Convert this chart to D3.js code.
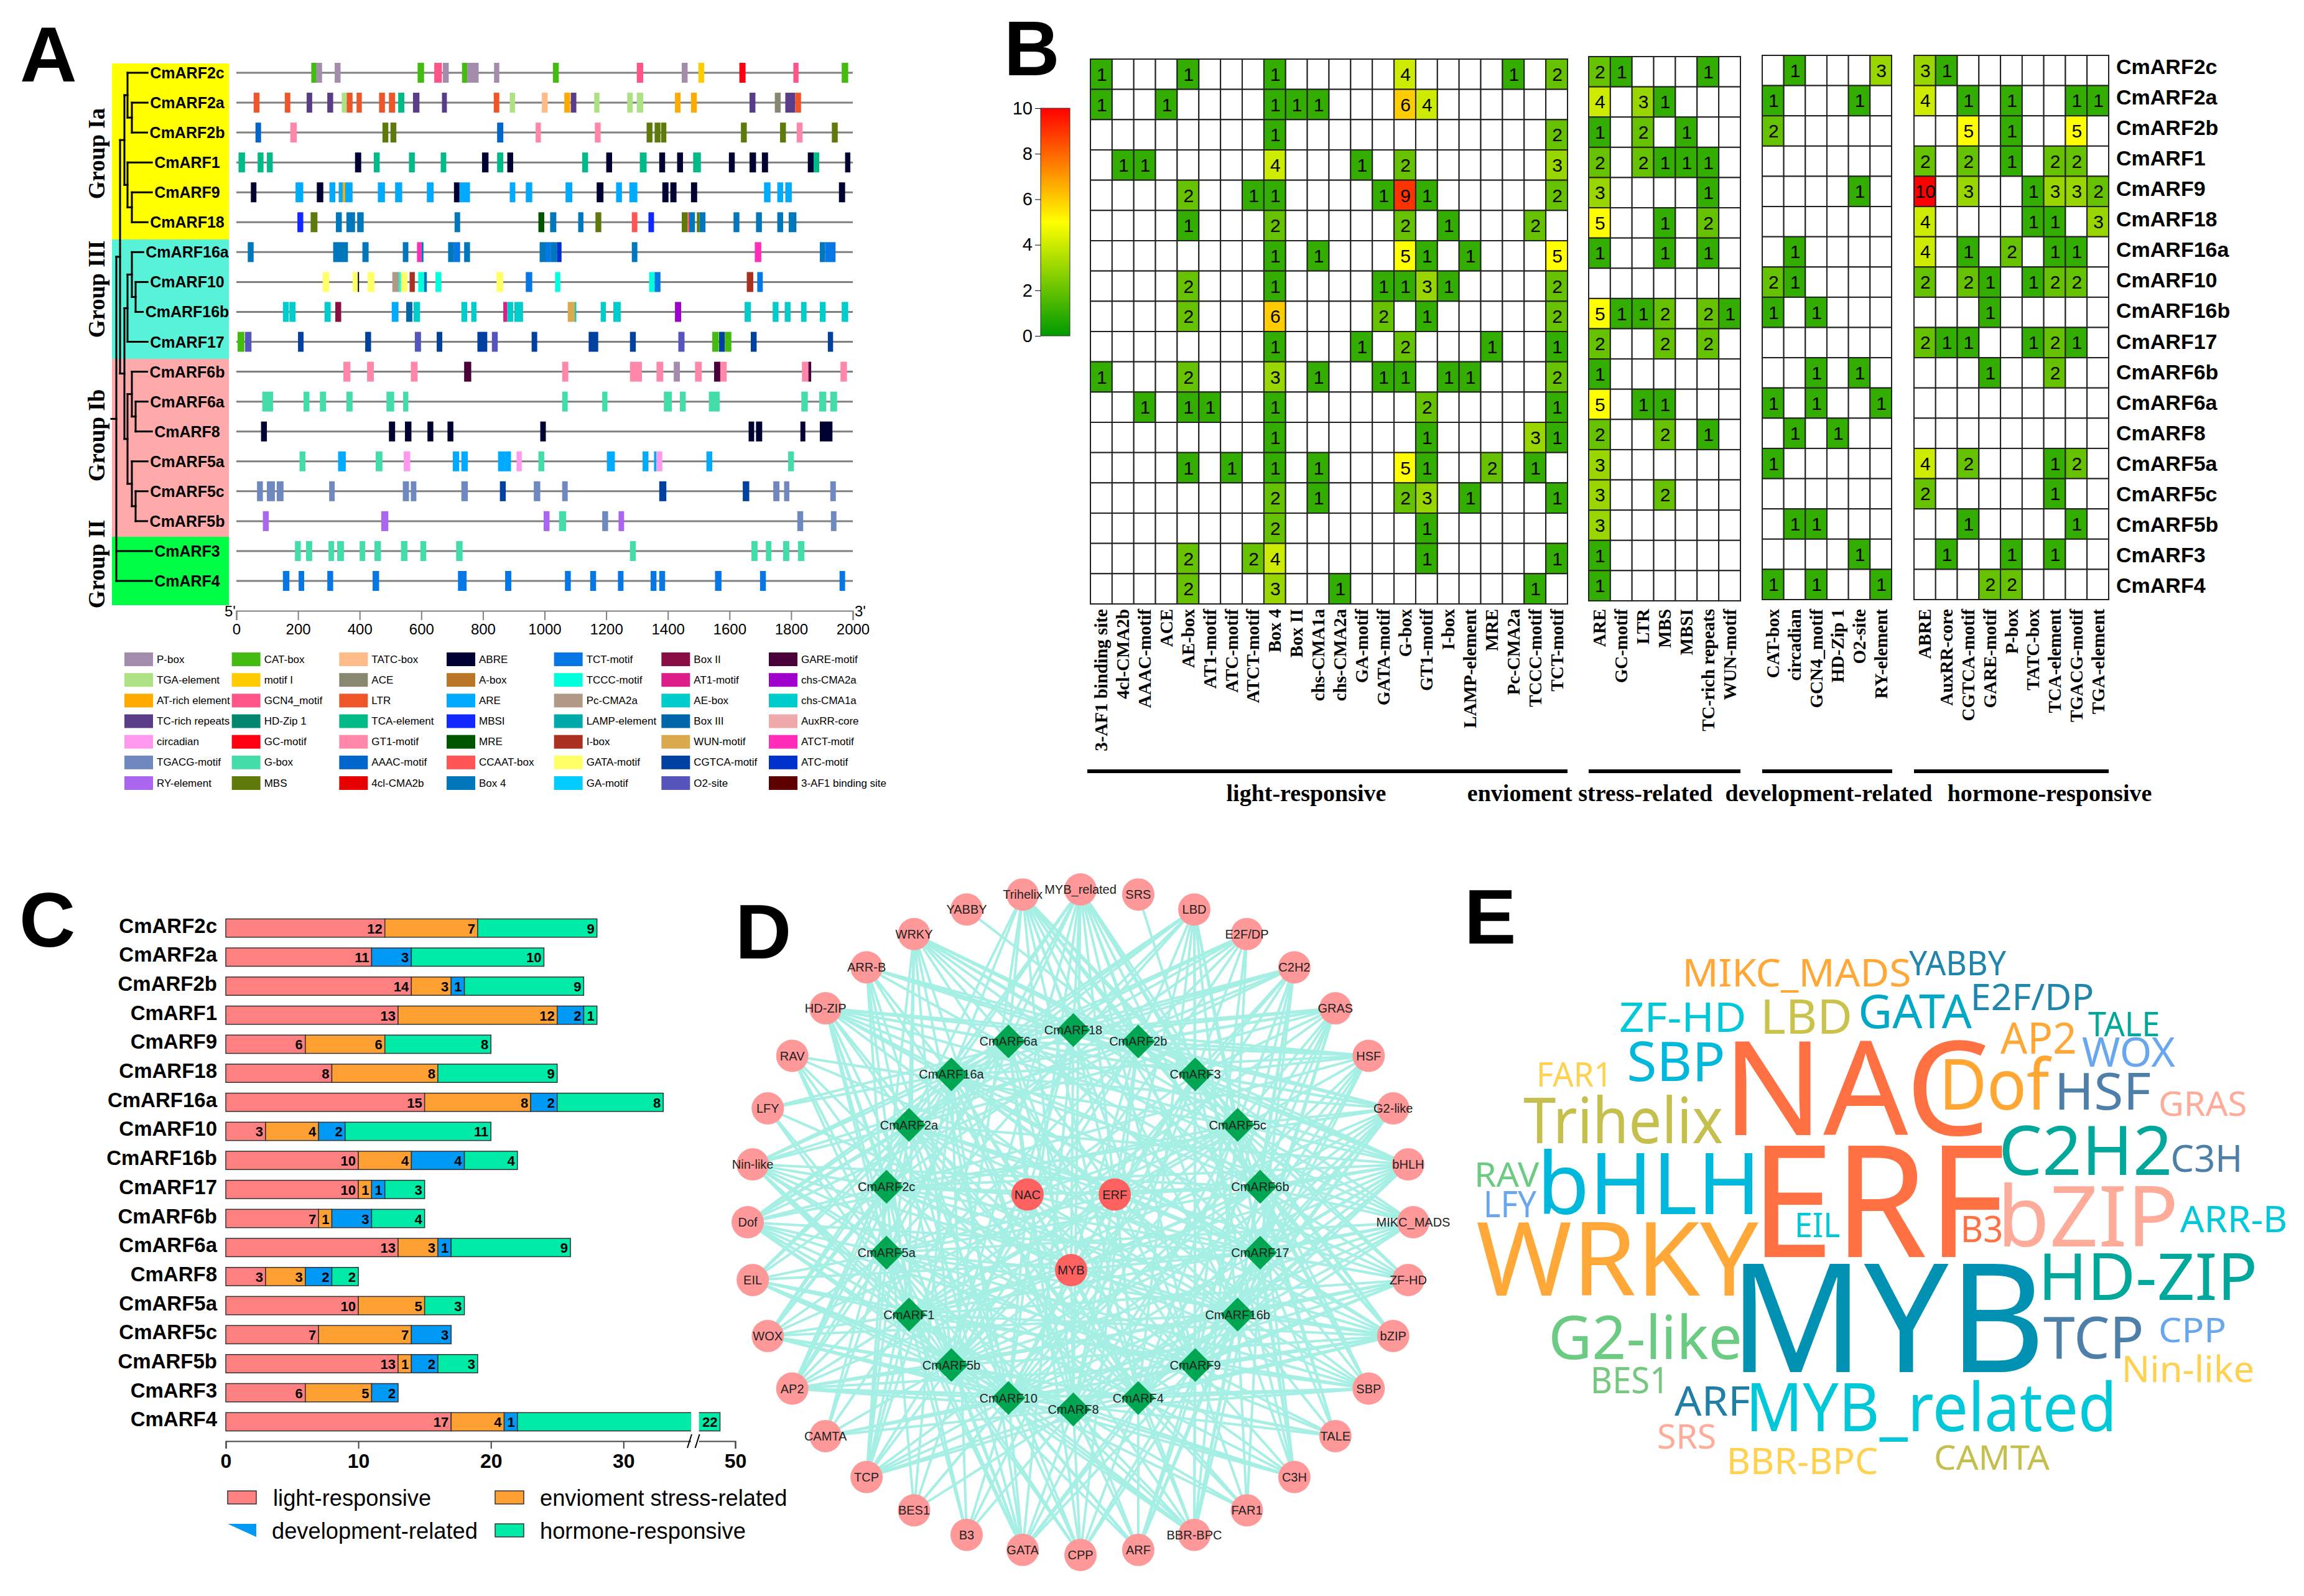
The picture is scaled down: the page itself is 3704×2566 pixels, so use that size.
<!DOCTYPE html>
<html>
<head>
<meta charset="utf-8">
<style>
  body { margin: 0; background: #fff; }
  text { font-family: "Liberation Sans", Arial, sans-serif; }
  .serif { font-family: "Liberation Serif", "Times New Roman", serif; font-weight: bold; }
</style>
<script src="https://cdn.jsdelivr.net/npm/d3@7"></script>
</head>
<body>
<svg id="chart" width="3704" height="2566"></svg>
<script>
// ---- data ----
const genes = ["CmARF2c","CmARF2a","CmARF2b","CmARF1","CmARF9","CmARF18","CmARF16a","CmARF10","CmARF16b","CmARF17","CmARF6b","CmARF6a","CmARF8","CmARF5a","CmARF5c","CmARF5b","CmARF3","CmARF4"];

// panel A legend, column by column
const motifNames = ["P-box","TGA-element","AT-rich element","TC-rich repeats","circadian","TGACG-motif","RY-element",
  "CAT-box","motif I","GCN4_motif","HD-Zip 1","GC-motif","G-box","MBS",
  "TATC-box","ACE","LTR","TCA-element","GT1-motif","AAAC-motif","4cl-CMA2b",
  "ABRE","A-box","ARE","MBSI","MRE","CCAAT-box","Box 4",
  "TCT-motif","TCCC-motif","Pc-CMA2a","LAMP-element","I-box","GATA-motif","GA-motif",
  "Box II","AT1-motif","AE-box","Box III","WUN-motif","CGTCA-motif","O2-site",
  "GARE-motif","chs-CMA2a","chs-CMA1a","AuxRR-core","ATCT-motif","ATC-motif","3-AF1 binding site"];
const motifColors = ["#a48cad","#aee183","#ffaa00","#5a3d88","#ff99ee","#7088c0","#aa66ee",
  "#44bb11","#ffcc00","#ff5588","#00876e","#ff0011","#44ddaa","#5e7a0a",
  "#ffbb88","#888870","#ee5528","#00bb88","#ff88aa","#0066cc","#e60000",
  "#000033","#bb7728","#00aaff","#1128ff","#005500","#ff5555","#0077bb",
  "#0777e5","#00ffdd","#b09a85","#00aaaa","#aa3020","#ffff66","#00ccff",
  "#880e44","#dd1e88","#00cccc","#0066aa","#d9aa4e","#00409f","#5555bb",
  "#4a0038","#a000cc","#00cccc","#eeaaaa","#ff2db8","#0033cc","#5e0000"];

// motif, start bp, end bp
const sitesARF2c = [["CAT-box",243,260],["P-box",260,278],["P-box",319,338],["CAT-box",588,609],["GCN4_motif",642,667],["P-box",670,689],["CAT-box",732,749],["P-box",749,786],["P-box",836,853],["CAT-box",1027,1046],["GCN4_motif",1299,1320],["P-box",1445,1464],["motif I",1499,1518],["GC-motif",1632,1652],["GCN4_motif",1807,1824],["CAT-box",1964,1985]];
const sitesARF2a = [["LTR",56,75],["LTR",157,175],["TC-rich repeats",228,246],["TC-rich repeats",295,314],["TGA-element",342,358],["LTR",358,377],["LTR",390,407],["LTR",463,482],["LTR",495,515],["TCA-element",525,545],["TC-rich repeats",573,594],["TC-rich repeats",667,683],["LTR",835,853],["TGA-element",887,904],["TATC-box",991,1010],["AT-rich element",1064,1083],["TC-rich repeats",1085,1103],["TGA-element",1161,1178],["TGA-element",1268,1286],["TGA-element",1299,1320],["AT-rich element",1423,1441],["AT-rich element",1475,1494],["TC-rich repeats",1665,1684],["ACE",1747,1766],["TC-rich repeats",1781,1813],["LTR",1813,1832]];
const sitesARF2b = [["AAAC-motif",62,80],["GT1-motif",175,196],["MBS",474,493],["MBS",500,519],["AAAC-motif",846,866],["GT1-motif",971,988],["GT1-motif",1163,1182],["MBS",1331,1350],["MBS",1357,1376],["MBS",1378,1395],["MBS",1637,1656],["MBS",1764,1783],["GT1-motif",1818,1837],["MBS",1932,1951]];
const sitesARF1 = [["TCA-element",7,28],["TCA-element",69,88],["TCA-element",99,118],["ABRE",385,405],["TCA-element",446,465],["TCA-element",560,579],["TCA-element",663,681],["ABRE",797,818],["TCA-element",846,866],["ABRE",879,898],["TCA-element",1122,1141],["ABRE",1200,1219],["TCA-element",1309,1331],["ABRE",1372,1391],["ABRE",1430,1449],["TCA-element",1482,1507],["ABRE",1598,1617],["ABRE",1665,1686],["ABRE",1705,1725],["ABRE",1854,1873],["TCA-element",1873,1891],["ABRE",1975,1992]];
const sitesARF9 = [["ABRE",47,65],["ARE",192,217],["ABRE",261,282],["ARE",302,321],["ARE",332,345],["AT-rich element",345,353],["ARE",353,377],["ARE",459,482],["ARE",515,538],["ARE",618,640],["ABRE",706,724],["ARE",724,758],["ARE",887,905],["ARE",939,960],["ARE",1068,1090],["ABRE",1169,1191],["ARE",1232,1251],["ARE",1275,1301],["ABRE",1382,1402],["ABRE",1408,1428],["ABRE",1475,1495],["ARE",1712,1733],["ARE",1755,1774],["ARE",1781,1802],["ABRE",1955,1975]];
const sitesARF18 = [["MBSI",198,217],["MBS",241,263],["Box 4",323,342],["Box 4",357,385],["Box 4",392,413],["Box 4",708,726],["MRE",980,999],["Box 4",1018,1038],["Box 4",1109,1126],["MBS",1165,1184],["CCAAT-box",1283,1301],["MBSI",1337,1355],["MBS",1445,1464],["CCAAT-box",1464,1469],["Box 4",1469,1488],["MBS",1494,1503],["Box 4",1503,1522],["Box 4",1613,1632],["Box 4",1686,1705],["Box 4",1755,1774],["Box 4",1792,1817]];
const sitesARF16a = [["Box 4",37,56],["Box 4",314,362],["Box 4",409,429],["Box 4",540,558],["ATCT-motif",586,601],["Box 4",601,607],["Box 4",687,706],["TCT-motif",706,726],["Box 4",739,758],["Box 4",984,1003],["TCT-motif",1003,1021],["Box 4",1021,1040],["ATC-motif",1040,1055],["Box 4",1283,1301],["ATCT-motif",1682,1703],["Box 4",1893,1910],["TCT-motif",1910,1944]];
const sitesARF10 = [["GATA-motif",280,301],["GATA-motif",377,394],["ABRE",394,398],["GATA-motif",426,448],["Pc-CMA2a",506,527],["TCCC-motif",527,534],["GATA-motif",534,555],["I-box",562,579],["TCCC-motif",590,609],["Box 4",609,618],["TCCC-motif",646,665],["GATA-motif",844,866],["TCT-motif",939,960],["TCCC-motif",1034,1051],["TCCC-motif",1339,1357],["TCT-motif",1357,1376],["I-box",1656,1677],["TCT-motif",1690,1708]];
const sitesARF16b = [["AE-box",151,170],["AE-box",172,192],["AE-box",286,306],["Box II",321,340],["ARE",504,526],["Box III",551,571],["AE-box",575,596],["AE-box",730,749],["AE-box",762,779],["AT1-motif",866,879],["AE-box",879,898],["AE-box",902,930],["WUN-motif",1075,1098],["AE-box",1098,1103],["AE-box",1182,1199],["AE-box",1223,1247],["chs-CMA2a",1423,1443],["AE-box",1649,1669],["AE-box",1740,1759],["AE-box",1779,1798],["AE-box",1832,1850],["AE-box",1893,1912],["AE-box",1964,1985]];
const sitesARF17 = [["CAT-box",4,26],["O2-site",28,49],["CGTCA-motif",200,218],["CGTCA-motif",418,437],["O2-site",579,599],["CGTCA-motif",650,668],["CGTCA-motif",782,814],["O2-site",829,848],["CGTCA-motif",958,976],["CGTCA-motif",1143,1174],["CGTCA-motif",1277,1296],["O2-site",1434,1454],["CAT-box",1544,1565],["CGTCA-motif",1566,1585],["CAT-box",1585,1606],["CGTCA-motif",1669,1688],["CGTCA-motif",1919,1936]];
const sitesARF6b = [["GT1-motif",347,370],["GT1-motif",424,446],["GT1-motif",566,588],["GARE-motif",739,762],["GT1-motif",1057,1077],["GT1-motif",1277,1316],["GT1-motif",1363,1385],["P-box",1419,1439],["GT1-motif",1488,1510],["GARE-motif",1550,1570],["GT1-motif",1570,1591],["GT1-motif",1835,1856],["GARE-motif",1856,1865],["GT1-motif",1960,1981]];
const sitesARF6a = [["G-box",84,119],["G-box",218,237],["G-box",271,291],["G-box",357,377],["G-box",487,512],["G-box",541,558],["G-box",1057,1075],["G-box",1187,1204],["G-box",1387,1413],["G-box",1439,1458],["G-box",1533,1568],["G-box",1833,1854],["G-box",1891,1914],["G-box",1927,1949]];
const sitesARF8 = [["ABRE",80,99],["ABRE",495,515],["ABRE",547,568],["ABRE",620,639],["ABRE",685,704],["ABRE",986,1004],["ABRE",1662,1680],["ABRE",1686,1706],["ABRE",1830,1846],["ABRE",1893,1934]];
const sitesARF5a = [["G-box",205,224],["ARE",330,355],["G-box",452,474],["circadian",543,564],["ARE",702,723],["ARE",730,751],["ARE",849,870],["ARE",870,891],["circadian",909,926],["G-box",980,999],["ARE",1202,1228],["ARE",1318,1337],["ARE",1355,1363],["circadian",1363,1382],["ARE",1525,1544],["G-box",1790,1809]];
const sitesARF5c = [["TGACG-motif",67,86],["TGACG-motif",99,125],["TGACG-motif",131,153],["TGACG-motif",301,319],["TGACG-motif",540,560],["TGACG-motif",566,584],["TGACG-motif",730,751],["CGTCA-motif",855,874],["TGACG-motif",965,986],["TGACG-motif",1057,1075],["CGTCA-motif",1372,1395],["CGTCA-motif",1643,1664],["TGACG-motif",1742,1762],["TGACG-motif",1777,1794],["TGACG-motif",1927,1945]];
const sitesARF5b = [["RY-element",86,105],["RY-element",470,493],["RY-element",997,1016],["G-box",1047,1070],["TGACG-motif",1187,1206],["RY-element",1240,1258],["TGACG-motif",1820,1839],["TGACG-motif",1929,1947]];
const sitesARF3 = [["G-box",190,209],["G-box",226,246],["G-box",299,317],["G-box",327,349],["G-box",400,418],["G-box",448,469],["G-box",534,555],["G-box",597,616],["G-box",713,734],["G-box",1277,1296],["G-box",1671,1691],["G-box",1718,1736],["G-box",1774,1794],["G-box",1822,1843]];
const sitesARF4 = [["TCT-motif",151,172],["TCT-motif",202,220],["TCT-motif",295,314],["TCT-motif",442,463],["TCT-motif",719,747],["TCT-motif",872,892],["TCT-motif",1066,1085],["TCT-motif",1148,1167],["TCT-motif",1238,1256],["TCT-motif",1344,1363],["TCT-motif",1372,1391],["TCT-motif",1553,1574],["TCT-motif",1699,1718],["TCT-motif",1957,1975]];
const allSites = [sitesARF2c,sitesARF2a,sitesARF2b,sitesARF1,sitesARF9,sitesARF18,sitesARF16a,sitesARF10,sitesARF16b,sitesARF17,sitesARF6b,sitesARF6a,sitesARF8,sitesARF5a,sitesARF5c,sitesARF5b,sitesARF3,sitesARF4];

const groupNames = ["Group Ia","Group III","Group Ib","Group II"];
const groupColors = ["#ffff00","#58f2d9","#ffaaaa","#00ff44"];

// cladogram, leaves in gene order
const tree = { children: [
  { children: [
    { children: [
      { children: [{ name: "CmARF2c" }, { children: [{ name: "CmARF2a" }, { name: "CmARF2b" }] }] },
      { children: [{ name: "CmARF1" }, { children: [{ name: "CmARF9" }, { name: "CmARF18" }] }] }
    ] },
    { children: [
      { children: [
        { children: [{ name: "CmARF16a" }, { children: [{ name: "CmARF10" }, { name: "CmARF16b" }] }] },
        { name: "CmARF17" }
      ] },
      { children: [
        { children: [{ name: "CmARF6b" }, { children: [{ name: "CmARF6a" }, { name: "CmARF8" }] }] },
        { children: [{ name: "CmARF5a" }, { children: [{ name: "CmARF5c" }, { name: "CmARF5b" }] }] }
      ] }
    ] }
  ] },
  { name: "CmARF3" },
  { name: "CmARF4" }
] };

// panel B
const lightCols = ["3-AF1 binding site","4cl-CMA2b","AAAC-motif","ACE","AE-box","AT1-motif","ATC-motif","ATCT-motif","Box 4","Box II","chs-CMA1a","chs-CMA2a","GA-motif","GATA-motif","G-box","GT1-motif","I-box","LAMP-element","MRE","Pc-CMA2a","TCCC-motif","TCT-motif"];
const stressCols = ["ARE","GC-motif","LTR","MBS","MBSI","TC-rich repeats","WUN-motif"];
const devCols = ["CAT-box","circadian","GCN4_motif","HD-Zip 1","O2-site","RY-element"];
const hormoneCols = ["ABRE","AuxRR-core","CGTCA-motif","GARE-motif","P-box","TATC-box","TCA-element","TGACG-motif","TGA-element"];
const lightCounts = [
  [1,0,0,0,1,0,0,0,1,0,0,0,0,0,4,0,0,0,0,1,0,2],
  [1,0,0,1,0,0,0,0,1,1,1,0,0,0,6,4,0,0,0,0,0,0],
  [0,0,0,0,0,0,0,0,1,0,0,0,0,0,0,0,0,0,0,0,0,2],
  [0,1,1,0,0,0,0,0,4,0,0,0,1,0,2,0,0,0,0,0,0,3],
  [0,0,0,0,2,0,0,1,1,0,0,0,0,1,9,1,0,0,0,0,0,2],
  [0,0,0,0,1,0,0,0,2,0,0,0,0,0,2,0,1,0,0,0,2,0],
  [0,0,0,0,0,0,0,0,1,0,1,0,0,0,5,1,0,1,0,0,0,5],
  [0,0,0,0,2,0,0,0,1,0,0,0,0,1,1,3,1,0,0,0,0,2],
  [0,0,0,0,2,0,0,0,6,0,0,0,0,2,0,1,0,0,0,0,0,2],
  [0,0,0,0,0,0,0,0,1,0,0,0,1,0,2,0,0,0,1,0,0,1],
  [1,0,0,0,2,0,0,0,3,0,1,0,0,1,1,0,1,1,0,0,0,2],
  [0,0,1,0,1,1,0,0,1,0,0,0,0,0,0,2,0,0,0,0,0,1],
  [0,0,0,0,0,0,0,0,1,0,0,0,0,0,0,1,0,0,0,0,3,1],
  [0,0,0,0,1,0,1,0,1,0,1,0,0,0,5,1,0,0,2,0,1,0],
  [0,0,0,0,0,0,0,0,2,0,1,0,0,0,2,3,0,1,0,0,0,1],
  [0,0,0,0,0,0,0,0,2,0,0,0,0,0,0,1,0,0,0,0,0,0],
  [0,0,0,0,2,0,0,2,4,0,0,0,0,0,0,1,0,0,0,0,0,1],
  [0,0,0,0,2,0,0,0,3,0,0,1,0,0,0,0,0,0,0,0,1,0]
];
const stressCounts = [
  [2,1,0,0,0,1,0],[4,0,3,1,0,0,0],[1,0,2,0,1,0,0],[2,0,2,1,1,1,0],[3,0,0,0,0,1,0],[5,0,0,1,0,2,0],
  [1,0,0,1,0,1,0],[0,0,0,0,0,0,0],[5,1,1,2,0,2,1],[2,0,0,2,0,2,0],[1,0,0,0,0,0,0],[5,0,1,1,0,0,0],
  [2,0,0,2,0,1,0],[3,0,0,0,0,0,0],[3,0,0,2,0,0,0],[3,0,0,0,0,0,0],[1,0,0,0,0,0,0],[1,0,0,0,0,0,0]
];
const devCounts = [
  [0,1,0,0,0,3],[1,0,0,0,1,0],[2,0,0,0,0,0],[0,0,0,0,0,0],[0,0,0,0,1,0],[0,0,0,0,0,0],
  [0,1,0,0,0,0],[2,1,0,0,0,0],[1,0,1,0,0,0],[0,0,0,0,0,0],[0,0,1,0,1,0],[1,0,1,0,0,1],
  [0,1,0,1,0,0],[1,0,0,0,0,0],[0,0,0,0,0,0],[0,1,1,0,0,0],[0,0,0,0,1,0],[1,0,1,0,0,1]
];
const hormoneCounts = [
  [3,1,0,0,0,0,0,0,0],[4,0,1,0,1,0,0,1,1],[0,0,5,0,1,0,0,5,0],[2,0,2,0,1,0,2,2,0],[10,0,3,0,0,1,3,3,2],[4,0,0,0,0,1,1,0,3],
  [4,0,1,0,2,0,1,1,0],[2,0,2,1,0,1,2,2,0],[0,0,0,1,0,0,0,0,0],[2,1,1,0,0,1,2,1,0],[0,0,0,1,0,0,2,0,0],[0,0,0,0,0,0,0,0,0],
  [0,0,0,0,0,0,0,0,0],[4,0,2,0,0,0,1,2,0],[2,0,0,0,0,0,1,0,0],[0,0,1,0,0,0,0,1,0],[0,1,0,0,1,0,1,0,0],[0,0,0,2,2,0,0,0,0]
];

// panel C
const categories = ["light-responsive","envioment stress-related","development-related","hormone-responsive"];
const categoryColors = ["#ff8080","#ffa033","#0099f5","#00eaa8"];
const lightTotals = [12,11,14,13,6,8,15,3,10,10,7,13,3,10,7,13,6,17];
const stressTotals = [7,0,3,12,6,8,8,4,4,1,1,3,3,5,7,1,5,4];
const devTotals = [0,3,1,2,0,0,2,2,4,1,3,1,2,0,3,2,2,1];
const hormoneTotals = [9,10,9,1,8,9,8,11,4,3,4,9,2,3,0,3,0,22];
const xTicksC = [0,10,20,30,50];

// panel D
const tfNames = ["MYB_related","SRS","LBD","E2F/DP","C2H2","GRAS","HSF","G2-like","bHLH","MIKC_MADS","ZF-HD","bZIP","SBP","TALE","C3H","FAR1","BBR-BPC","ARF","CPP","GATA","B3","BES1","TCP","CAMTA","AP2","WOX","EIL","Dof","Nin-like","LFY","RAV","HD-ZIP","ARR-B","WRKY","YABBY","Trihelix"];
const arfRing = ["CmARF18","CmARF2b","CmARF3","CmARF5c","CmARF6b","CmARF17","CmARF16b","CmARF9","CmARF4","CmARF8","CmARF10","CmARF5b","CmARF1","CmARF5a","CmARF2c","CmARF2a","CmARF16a","CmARF6a"];
const hubNames = ["ERF","MYB","NAC"];
// for each TF above, the indexes in arfRing it links to (estimated)
const tfTargets = [
  [0,1,2,3,4,5,6,7,8,9,10,11,13,15,16,17],[2],[0,1,2,3,5,6,7,8,9,13,15,16,17],[0,1,16,17,3,7,9,11,14],
  [0,1,2,3,4,5,6,7,8,10,11,15,16,17],[0,1,2,3,4,5,6,8,9,12,16,17,15],[0,1,2,4,6,7,8,10,12,14,16,17],[0,1,2,3,4,5,6,7,8,9,10,12,14,16,17],
  [0,1,2,3,4,5,6,7,8,9,10,11,12,13,14,15,17],[2,3,4,5,8,9,10,11,12,13,16,17],[2,3,4,5,6,7,9,10,11,12,14,15,16],[1,2,3,4,5,6,7,8,9,10,11,12,13,14,15,16],
  [2,3,4,5,6,7,8,9,10,12,13,14,16],[3,4,5,6,7,8,10,11,13],[2,3,4,5,6,7,8,9,10,11,14],[5,6,7,8,9,11,15],
  [2,3,4,5,6,7,8,9,10,11,12,13,15,17],[4,5,6,7,8,9,10,11,13,16],[1,5,6,8,9,10,11,12,15,17],[0,5,7,8,9,10,11,12,13,14,15,16,3],
  [2,9,10,12,14,16],[3,9,10,14,16,0],[1,6,8,9,10,11,12,13,14,15,16,17,4],[4,7,9,10,12,13,15],
  [4,6,7,8,9,10,11,12,13,14,15,16,17,1],[3,6,8,9,10,11,12,13,14,15,16,17],[5,7,9,10,11,12,13,14,15,17],[0,3,5,7,8,9,10,11,12,13,14,15,16,17,1],
  [1,4,6,7,8,10,11,12,13,14,15,16,17],[11,13,16,0,6],[11,12,14,3,5,8],[0,1,2,3,4,5,6,8,10,11,12,13,14,15,16,17],
  [0,1,2,4,8,10,11,12,13,16],[0,1,2,3,4,5,7,9,10,11,12,14,15,17],[1],[0,1,2,3,4,5,6,7,8,9,11,15,16,17]
];

// panel E
const wordNames = ["ERF","MYB","NAC","WRKY","bHLH","bZIP","Dof","C2H2","MYB_related","HD-ZIP","Trihelix","G2-like","TCP","SBP","HSF","LBD","GATA","AP2","ARF","ZF-HD","WOX","MIKC_MADS","C3H","BES1","Nin-like","ARR-B","LFY","E2F/DP","B3","BBR-BPC","CAMTA","CPP","RAV","YABBY","TALE","FAR1","GRAS","EIL","SRS"];
const wordWeights = [100,97,84,66,55,54,45,44,43,42,41,39,37,35,33,31,30,28,26,26,26,25,24,23,23,23,23,23,23,23,22,22,22,22,22,22,22,22,22];
const wordColors = ["#ff7043","#0091b3","#ff7043","#ffa838","#00b8dc","#ffab99","#ffa732","#00a79b","#00c8d8","#00a79b","#c5bf4e","#6ccb82","#4e7fa8","#00b8dc","#4e7fa8","#c9c24b","#00a8c8","#ffa838","#1f7fa5","#00c8d8","#6aa6ee","#ffa838","#4e7fa8","#76c880","#ffd14f","#00c8d8","#6aa6ee","#1f85ac","#ff7043","#ffd14f","#c5bf4e","#6aa6ee","#6ccb82","#1f85ac","#00a79b","#ffd14f","#ffab99","#00c8d8","#ffab99"];

// ---- drawing ----
const svg = d3.select("#chart");
const sans = "Liberation Sans";

function panelLetter(t, x, y, size) {
  svg.append("text").attr("x", x).attr("y", y).attr("font-size", size).attr("font-weight", "bold").text(t);
}
panelLetter("A", 32, 131, 127);
panelLetter("B", 1614, 121, 124);
panelLetter("C", 31, 1522, 125);
panelLetter("D", 1182, 1541, 125);
panelLetter("E", 2354, 1517, 125);

// ---- A: motif map ----
const a = svg.append("g");
const motifColor = d3.scaleOrdinal().domain(motifNames).range(motifColors);
const xBp = d3.scaleLinear().domain([0, 2000]).range([380, 1371]);
const yRow = d3.scalePoint().domain(genes).range([117, 934]);

const groupEdges = [102, 385, 577, 863, 973];
const groupLabelY = [247, 465, 700, 907];
groupNames.forEach((g, i) => {
  a.append("rect").attr("x", 180).attr("width", 188)
    .attr("y", groupEdges[i]).attr("height", groupEdges[i + 1] - groupEdges[i])
    .attr("fill", groupColors[i]);
  a.append("text").attr("class", "serif")
    .attr("transform", `translate(155,${groupLabelY[i]}) rotate(-90)`)
    .attr("text-anchor", "middle").attr("dominant-baseline", "central")
    .attr("font-size", 37).text(g);
});

genes.forEach((g, i) => {
  const row = a.append("g");
  row.append("line").attr("x1", xBp(0)).attr("x2", xBp(2000))
    .attr("y1", yRow(g)).attr("y2", yRow(g))
    .attr("stroke", "#808080").attr("stroke-width", 3);
  row.selectAll("rect").data(allSites[i]).enter().append("rect")
    .attr("x", d => xBp(d[1]))
    .attr("width", d => xBp(d[2]) - xBp(d[1]))
    .attr("y", yRow(g) - 16).attr("height", 32)
    .attr("fill", d => motifColor(d[0]));
});

const geneLabels = a.selectAll(".gene").data(genes).enter().append("text")
  .attr("class", "gene")
  .attr("x", 301).attr("y", d => yRow(d))
  .attr("text-anchor", "middle").attr("dominant-baseline", "central")
  .attr("font-size", 25).attr("font-weight", "bold").text(d => d);

// cladogram, x follows depth, y the midpoint of the children
const labelLeft = {};
geneLabels.each(function(d) { labelLeft[d] = 301 - this.getComputedTextLength() / 2 - 4; });
const depthX = d3.scaleOrdinal().domain([0, 1, 2, 3, 4, 5]).range([187, 193, 200, 205, 212, 218]);
const root = d3.hierarchy(tree);
root.eachAfter(n => {
  n.yPos = n.children ? d3.mean([n.children[0].yPos, n.children[n.children.length - 1].yPos]) : yRow(n.data.name);
  n.xPos = n.children ? depthX(n.depth) : labelLeft[n.data.name];
});
const treeLine = (x1, y1, x2, y2) => a.append("line")
  .attr("x1", x1).attr("y1", y1).attr("x2", x2).attr("y2", y2)
  .attr("stroke", "#000").attr("stroke-width", 3).attr("stroke-linecap", "square");
root.each(n => {
  if (!n.children) return;
  const ys = n.children.map(c => c.yPos);
  treeLine(n.xPos, d3.min(ys), n.xPos, d3.max(ys));
  n.children.forEach(c => treeLine(n.xPos, c.yPos, c.xPos, c.yPos));
});
treeLine(179, root.yPos, root.xPos, root.yPos);

// scale bar
const axisA = a.append("g").attr("transform", "translate(0,982)")
  .call(d3.axisBottom(xBp).tickValues(d3.range(0, 2001, 200)).tickFormat(d3.format("d")).tickSize(15).tickPadding(6));
axisA.selectAll("path,line").attr("stroke", "#808080").attr("stroke-width", 2);
axisA.selectAll("text").attr("font-size", 24).attr("font-family", sans).attr("fill", "#000");
a.append("text").attr("x", 361).attr("y", 991).attr("font-size", 24).text("5'");
a.append("text").attr("x", 1374).attr("y", 991).attr("font-size", 24).text("3'");

// motif legend
const legendX = d3.scaleLinear().domain([0, 6]).range([200, 1236]);
const legendY = d3.scaleLinear().domain([0, 6]).range([1060, 1259]);
const legendItem = a.selectAll(".motif").data(motifNames).enter().append("g")
  .attr("transform", (d, i) => `translate(${legendX(Math.floor(i / 7))},${legendY(i % 7)})`);
legendItem.append("rect").attr("y", -11).attr("width", 46).attr("height", 22)
  .attr("fill", d => motifColor(d));
legendItem.append("text").attr("x", 52).attr("dominant-baseline", "central")
  .attr("font-size", 17).text(d => d);

// ---- B: heatmaps ----
const b = svg.append("g");
const heat = d3.scaleLinear().domain([0, 5, 10]).range(["#009900", "#ffff00", "#ff0000"]);

function heatGrid(cols, counts, left, right, top, bottom) {
  const x = d3.scaleBand().domain(cols).range([left, right]);
  const y = d3.scaleBand().domain(genes).range([top, bottom]);
  const cells = [];
  counts.forEach((row, r) => row.forEach((v, c) => cells.push({ gene: genes[r], col: cols[c], v: v })));
  b.append("g").selectAll("rect").data(cells).enter().append("rect")
    .attr("x", d => x(d.col)).attr("y", d => y(d.gene))
    .attr("width", x.bandwidth()).attr("height", y.bandwidth())
    .attr("fill", d => d.v ? heat(d.v) : "#fff")
    .attr("stroke", "#222").attr("stroke-width", 2);
  b.append("g").selectAll("text").data(cells.filter(d => d.v)).enter().append("text")
    .attr("x", d => x(d.col) + x.bandwidth() / 2 + 1)
    .attr("y", d => y(d.gene) + y.bandwidth() / 2)
    .attr("text-anchor", "middle").attr("dominant-baseline", "central")
    .attr("font-size", 30).text(d => d.v);
  b.append("g").selectAll("text").data(cols).enter().append("text")
    .attr("class", "serif")
    .attr("transform", d => `translate(${x(d) + x.bandwidth() / 2},979) rotate(-90)`)
    .attr("text-anchor", "end").attr("dominant-baseline", "central")
    .attr("font-size", 29).text(d => d);
}
heatGrid(lightCols, lightCounts, 1753, 2520, 95, 971);
heatGrid(stressCols, stressCounts, 2554, 2798, 91, 966);
heatGrid(devCols, devCounts, 2833, 3041, 89, 964);
heatGrid(hormoneCols, hormoneCounts, 3077, 3390, 89, 964);

const yGeneLabel = d3.scalePoint().domain(genes).range([107, 941]);
b.selectAll(".arfb").data(genes).enter().append("text")
  .attr("x", 3402).attr("y", d => yGeneLabel(d))
  .attr("dominant-baseline", "central")
  .attr("font-size", 34).attr("font-weight", "bold").text(d => d);

const underlineEdges = [[1748, 2520], [2554, 2798], [2833, 3042], [3077, 3390]];
const titleCentres = [2100, 2556, 2940, 3295];
categories.forEach((t, i) => {
  b.append("rect").attr("x", underlineEdges[i][0]).attr("y", 1237)
    .attr("width", underlineEdges[i][1] - underlineEdges[i][0]).attr("height", 6);
  b.append("text").attr("class", "serif").attr("x", titleCentres[i]).attr("y", 1288)
    .attr("text-anchor", "middle").attr("font-size", 38).text(t);
});

// colour bar
const gradient = svg.append("defs").append("linearGradient").attr("id", "heatbar")
  .attr("x1", 0).attr("x2", 0).attr("y1", 1).attr("y2", 0);
[0, 5, 10].forEach(v => gradient.append("stop").attr("offset", v / 10).attr("stop-color", heat(v)));
const yBar = d3.scaleLinear().domain([0, 10]).range([540, 174]);
b.append("rect").attr("x", 1673).attr("y", 174).attr("width", 47).attr("height", 366)
  .attr("fill", "url(#heatbar)").attr("stroke", "#333");
const barAxis = b.append("g").attr("transform", "translate(1673,0)")
  .call(d3.axisLeft(yBar).tickValues([0, 2, 4, 6, 8, 10]).tickSize(9).tickPadding(4));
barAxis.select(".domain").remove();
barAxis.selectAll("text").attr("font-size", 29).attr("font-family", sans).attr("fill", "#000");

// ---- C: stacked bars ----
const c = svg.append("g");
const barRows = genes.map((g, i) => ({
  gene: g,
  [categories[0]]: lightTotals[i],
  [categories[1]]: stressTotals[i],
  [categories[2]]: devTotals[i],
  [categories[3]]: hormoneTotals[i]
}));
const xC = d3.scaleLinear().domain([0, 35.1, 35.7, 50]).range([363, 1111, 1123.6, 1182]);
const yC = d3.scaleBand().domain(genes).range([1469, 2309]).paddingInner(0.37).paddingOuter(0.18);
const layers = d3.stack().keys(categories)(barRows);
const catColor = d3.scaleOrdinal().domain(categories).range(categoryColors);

layers.forEach(layer => {
  const segs = layer.filter(d => d[1] > d[0]);
  c.append("g").selectAll("rect").data(segs).enter().append("rect")
    .attr("x", d => xC(d[0])).attr("y", d => yC(d.data.gene))
    .attr("width", d => xC(d[1]) - xC(d[0])).attr("height", yC.bandwidth())
    .attr("fill", catColor(layer.key)).attr("stroke", "#333").attr("stroke-width", 1.5);
});
layers.forEach(layer => {
  const segs = layer.filter(d => d[1] > d[0]);
  c.append("g").selectAll("text").data(segs).enter().append("text")
    .attr("x", d => xC(d[1]) - 4).attr("y", d => yC(d.data.gene) + yC.bandwidth() / 2 + 1)
    .attr("text-anchor", "end").attr("dominant-baseline", "central")
    .attr("font-size", 22).attr("font-weight", "bold").text(d => d[1] - d[0]);
});
// the broken part of the last bar
c.append("rect").attr("x", xC(35.1)).attr("width", xC(35.7) - xC(35.1))
  .attr("y", yC("CmARF4") - 2).attr("height", yC.bandwidth() + 4).attr("fill", "#fff");

c.selectAll(".arfc").data(genes).enter().append("text")
  .attr("x", 349).attr("y", d => yC(d) + yC.bandwidth() / 2 - 4)
  .attr("text-anchor", "end").attr("dominant-baseline", "central")
  .attr("font-size", 33).attr("font-weight", "bold").text(d => d);

const axisC = c.append("g").attr("transform", "translate(0,2317)")
  .call(d3.axisBottom(xC).tickValues(xTicksC).tickFormat(d3.format("d")).tickSize(12).tickPadding(8));
axisC.selectAll("path,line").attr("stroke", "#444").attr("stroke-width", 2);
axisC.selectAll("text").attr("font-size", 32).attr("font-weight", "bold").attr("font-family", sans).attr("fill", "#000");
c.append("rect").attr("x", xC(35.1)).attr("y", 2312).attr("width", xC(35.7) - xC(35.1)).attr("height", 10).attr("fill", "#fff");
[35.1, 35.7].forEach(v => c.append("line")
  .attr("x1", xC(v) - 6).attr("y1", 2328).attr("x2", xC(v) + 1).attr("y2", 2306)
  .attr("stroke", "#000").attr("stroke-width", 2));

const legendC = [[366, 2397, 439], [796, 2397, 868], [366, 2450, 437], [796, 2450, 868]];
categories.forEach((name, k) => {
  const p = legendC[k];
  if (k === 2) {
    c.append("path").attr("d", `M${p[0]},${p[1]}H${p[0] + 46}V${p[1] + 21}Z`).attr("fill", categoryColors[k]);
  } else {
    c.append("rect").attr("x", p[0]).attr("y", p[1]).attr("width", 46).attr("height", 21)
      .attr("fill", categoryColors[k]).attr("stroke", "#333").attr("stroke-width", 1.5);
  }
  c.append("text").attr("x", p[2]).attr("y", p[1] + 11).attr("dominant-baseline", "central")
    .attr("font-size", 36.3).text(name);
});

// ---- D: network ----
const d = svg.append("g");
const ringPos = (n, cx, cy, r, start) => i => {
  const ang = start + i / n * 2 * Math.PI;
  return [cx + r * Math.sin(ang), cy - r * Math.cos(ang)];
};
const tfPos = ringPos(tfNames.length, 1737, 1965, 535, 0);
const arfPos = ringPos(arfRing.length, 1725.5, 1961, 305, 0);
const hubPos = ringPos(hubNames.length, 1722, 1961, 81, Math.PI / 3);

const links = [];
tfTargets.forEach((targets, i) => targets.forEach(t => links.push([tfPos(i), arfPos(t)])));
hubNames.forEach((h, i) => arfRing.forEach((g, t) => links.push([hubPos(i), arfPos(t)])));
d.append("g").selectAll("line").data(links).enter().append("line")
  .attr("x1", l => l[0][0]).attr("y1", l => l[0][1])
  .attr("x2", l => l[1][0]).attr("y2", l => l[1][1])
  .attr("stroke", "#a5efe4").attr("stroke-width", 4);

function circles(names, pos, color) {
  const g = d.append("g").selectAll("g").data(names).enter().append("g")
    .attr("transform", (n, i) => `translate(${pos(i)})`);
  g.append("circle").attr("r", 26).attr("fill", color);
  g.append("text").attr("text-anchor", "middle").attr("dominant-baseline", "central")
    .attr("font-size", 20).attr("fill", "#222").text(n => n);
}
circles(tfNames, tfPos, "#ff9999");
circles(hubNames, hubPos, "#ff6060");

const diamond = d3.symbol().type(d3.symbolSquare).size(1480);
const arfNode = d.append("g").selectAll("g").data(arfRing).enter().append("g")
  .attr("transform", (n, i) => `translate(${arfPos(i)})`);
arfNode.append("path").attr("d", diamond).attr("transform", "rotate(45)").attr("fill", "#00a651");
arfNode.append("text").attr("text-anchor", "middle").attr("dominant-baseline", "central")
  .attr("font-size", 20).attr("fill", "#222").text(n => n);

// ---- E: word cloud ----
// left, right, baseline of each word on the page
const cloudPlace = {
  "ERF":[2836,3214,2021],"MYB":[2801,3279,2206],"NAC":[2788,3190,1825],"WRKY":[2373,2827,2083],
  "bHLH":[2483,2825,1952],"bZIP":[3223,3497,2004],"Dof":[3127,3290,1784],"C2H2":[3223,3488,1889],
  "MYB_related":[2816,3399,2301],"HD-ZIP":[3286,3625,2090],"Trihelix":[2449,2766,1838],"G2-like":[2498,2797,2185],
  "TCP":[3285,3443,2184],"SBP":[2623,2770,1738],"HSF":[3310,3455,1784],"LBD":[2837,2975,1662],
  "GATA":[2994,3170,1653],"AP2":[3216,3336,1694],"ARF":[2692,2811,2276],"ZF-HD":[2603,2805,1659],
  "WOX":[3347,3497,1715],"MIKC_MADS":[2710,3070,1586],"C3H":[3495,3603,1884],"BES1":[2562,2681,2240],
  "Nin-like":[3416,3622,2222],"ARR-B":[3505,3675,1981],"LFY":[2390,2470,1957],"E2F/DP":[3173,3364,1624],
  "B3":[3157,3218,1997],"BBR-BPC":[2781,3017,2370],"CAMTA":[3114,3295,2363],"CPP":[3475,3577,2158],
  "RAV":[2375,2472,1908],"YABBY":[3069,3225,1568],"TALE":[3357,3470,1666],"FAR1":[2475,2590,1747],
  "GRAS":[3475,3610,1794],"EIL":[2890,2956,1989],"SRS":[2669,2757,2329]
};
const fontSize = d3.scaleLinear().domain([0, 100]).range([0, 250]);
// glyphs sit inside their advance box, widen the box by the side bearings
const lead = (w, i) => /^[WYTAZ]/.test(w) ? 0 : 0.09 * fontSize(wordWeights[i]);
const tail = (w, i) => /[YATKX]$/.test(w) ? 0 : 0.04 * fontSize(wordWeights[i]);
svg.append("g").selectAll("text").data(wordNames).enter().append("text")
  .attr("x", (w, i) => cloudPlace[w][0] - lead(w, i))
  .attr("y", w => cloudPlace[w][2])
  .attr("textLength", (w, i) => cloudPlace[w][1] - cloudPlace[w][0] + lead(w, i) + tail(w, i))
  .attr("lengthAdjust", "spacingAndGlyphs")
  .style("font-family", '"Noto Sans", sans-serif')
  .attr("font-size", (w, i) => fontSize(wordWeights[i]))
  .attr("fill", (w, i) => wordColors[i])
  .text(w => w);
</script>
</body>
</html>
